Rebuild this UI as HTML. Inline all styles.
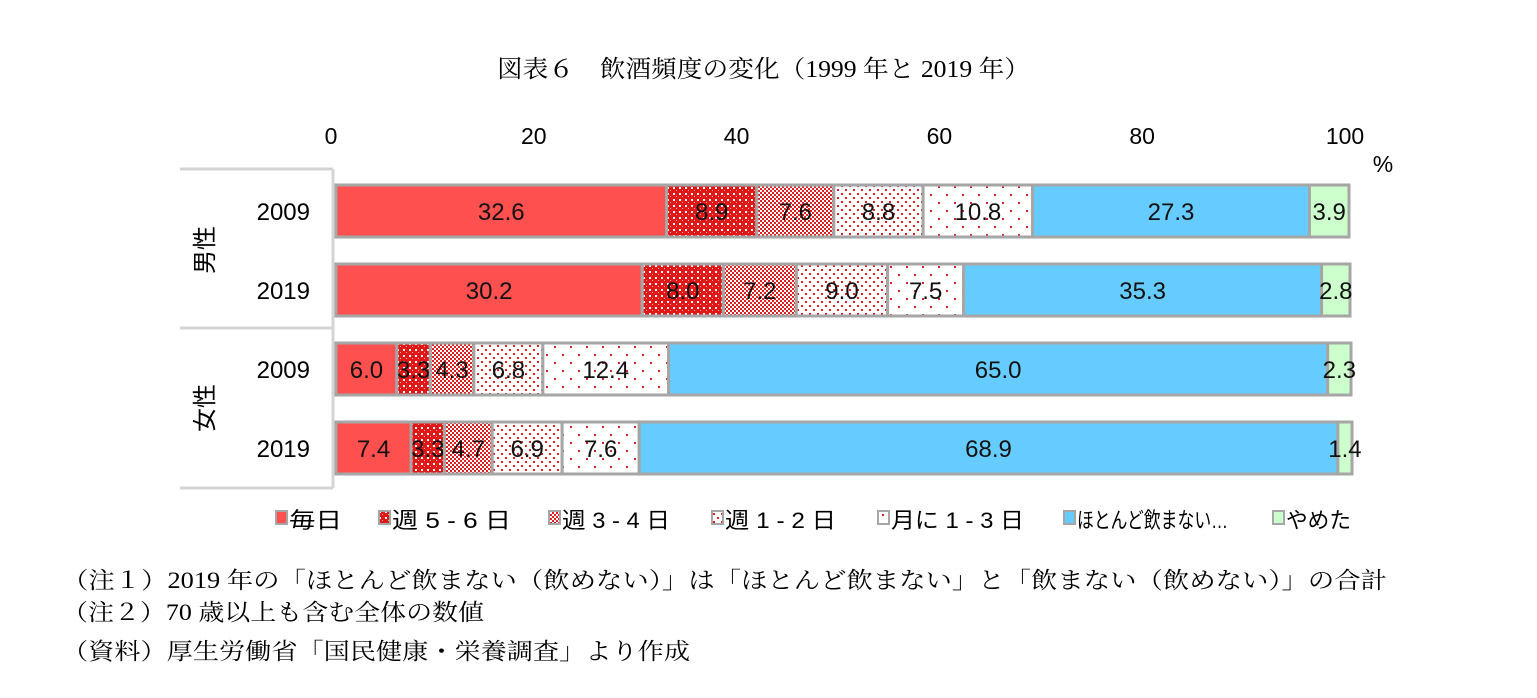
<!DOCTYPE html>
<html><head><meta charset="utf-8"><style>
body{margin:0;background:#fff;}
svg text{font-family:"Liberation Sans","Noto Sans CJK JP",sans-serif;}
.serif{font-family:"Liberation Serif","Noto Serif CJK SC",serif !important;}
</style></head><body>
<svg width="1537" height="693" viewBox="0 0 1537 693" xmlns="http://www.w3.org/2000/svg">
<defs>
<pattern id="p56" width="6" height="6" patternUnits="userSpaceOnUse"><rect width="6" height="6" fill="#e01818"/><rect x="1" y="1" width="2" height="2" fill="#fff"/><rect x="4" y="4" width="1" height="1" fill="#ffb0b0"/></pattern>
<pattern id="p34" width="4" height="4" patternUnits="userSpaceOnUse"><rect width="4" height="4" fill="#fff"/><rect width="2" height="2" fill="#e02020"/><rect x="2" y="2" width="2" height="2" fill="#e02020"/></pattern>
<pattern id="p12" width="8" height="8" patternUnits="userSpaceOnUse"><rect width="8" height="8" fill="#fff"/><rect x="1" y="1" width="2" height="2" fill="#d82020"/><rect x="5" y="5" width="2" height="2" fill="#d82020"/></pattern>
<pattern id="pm" width="16" height="16" patternUnits="userSpaceOnUse"><rect width="16" height="16" fill="#fff"/><rect x="2" y="2" width="2" height="2" fill="#d82020"/><rect x="10" y="10" width="2" height="2" fill="#d82020"/></pattern>
</defs>
<text class="serif" x="497" y="77" textLength="533" lengthAdjust="spacingAndGlyphs" font-size="24">図表６　飲酒頻度の変化（1999 年と 2019 年）</text>
<g id="axis"></g>
<text x="1383" y="172" text-anchor="middle" font-size="23">%</text>
<g stroke="#d4d4d4" stroke-width="3" fill="none">
<line x1="180" y1="169" x2="333" y2="169"/><line x1="180" y1="328" x2="333" y2="328"/><line x1="180" y1="488" x2="333" y2="488"/><line x1="333" y1="169" x2="333" y2="488"/>
</g>
<text x="0" y="0" font-size="24" transform="translate(213,250) rotate(-90)" text-anchor="middle">男性</text>
<text x="0" y="0" font-size="24" transform="translate(213,408) rotate(-90)" text-anchor="middle">女性</text>
<g id="bars"></g>
<g id="legend"></g>
<g class="serif" font-size="23">
<text class="serif" x="62" y="588" textLength="1325" lengthAdjust="spacingAndGlyphs">（注１）2019 年の「ほとんど飲まない（飲めない）」は「ほとんど飲まない」と「飲まない（飲めない）」の合計</text>
<text class="serif" x="62" y="620" textLength="422" lengthAdjust="spacingAndGlyphs">（注２）70 歳以上も含む全体の数値</text>
<text class="serif" x="62" y="659" textLength="628" lengthAdjust="spacingAndGlyphs">（資料）厚生労働省「国民健康・栄養調査」より作成</text>
</g>
</svg>
<script>
const rowLabels=["2009","2019","2009","2019"];
const seriesNames=["毎日","週 5 - 6 日","週 3 - 4 日","週 1 - 2 日","月に 1 - 3 日","ほとんど飲まない…","やめた"];
const daily=[32.6,30.2,6.0,7.4];
const w56=[8.9,8.0,3.3,3.3];
const w34=[7.6,7.2,4.3,4.7];
const w12=[8.8,9.0,6.8,6.9];
const m13=[10.8,7.5,12.4,7.6];
const rarely=[27.3,35.3,65.0,68.9];
const quit=[3.9,2.8,2.3,1.4];
const ticks=[0,20,40,60,80,100];
const series=[daily,w56,w34,w12,m13,rarely,quit];
const fills=["#ff5050","url(#p56)","url(#p34)","url(#p12)","url(#pm)","#66ccff","#ccffcc"];
const ns="http://www.w3.org/2000/svg";
const x0=336,x1=1350;
const xs=v=>x0+(x1-x0)*v/100;
const yc=i=>211+i*79;
const BH=52;
function mk(t,a,p){const e=document.createElementNS(ns,t);for(const k in a)e.setAttribute(k,a[k]);p.appendChild(e);return e;}
const ax=document.getElementById('axis');
ticks.forEach(t=>{const e=mk('text',{x:xs(t)-5,y:144,'text-anchor':'middle','font-size':23},ax);e.textContent=t;

});
const bars=document.getElementById('bars');
rowLabels.forEach((r,i)=>{
 const l=mk('text',{x:310,y:yc(i)+9,'text-anchor':'end','font-size':24},bars);l.textContent=r;
 
 
 let c=0;
 series.forEach((s,j)=>{
  const v=s[i];const a=xs(c),b=xs(c+v);c+=v;
  const rc=mk('rect',{x:a,y:yc(i)-BH/2,width:b-a,height:BH,fill:fills[j],stroke:'#a6a6a6','stroke-width':3},bars);
  
  
  const t=mk('text',{x:(a+b)/2,y:yc(i)+9,'text-anchor':'middle','font-size':24,fill:'#111'},bars);t.textContent=v.toFixed(1);
  
  
 });
});
const lg=document.getElementById('legend');
const lx=[276,379,549,712,878,1064,1273];
const lw=[53,119,108,111,133,151,65];
seriesNames.forEach((n,j)=>{
 const r=mk('rect',{x:lx[j],y:511,width:11,height:13,fill:fills[j],stroke:'#a6a6a6','stroke-width':2},lg);
 
 
 const t=mk('text',{x:lx[j]+13,y:528,'font-size':22,textLength:lw[j],lengthAdjust:'spacingAndGlyphs'},lg);t.textContent=n;
 
 
});
</script>
</body></html>
